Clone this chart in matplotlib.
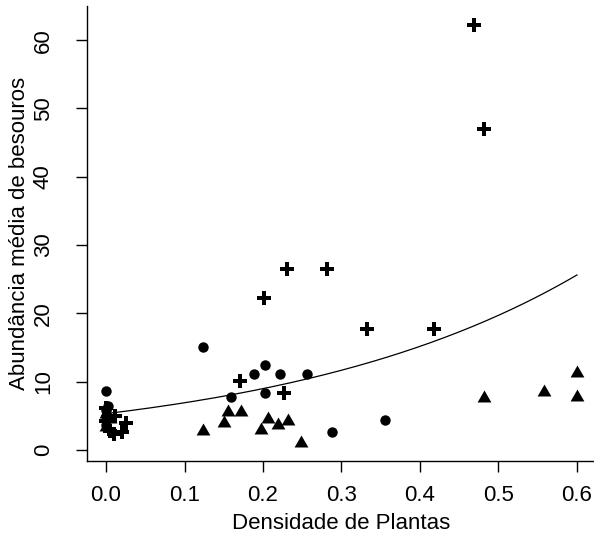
import matplotlib
matplotlib.use("Agg")
import matplotlib.pyplot as plt
import numpy as np
from matplotlib.path import Path

plt.rcParams['font.family'] = ['Liberation Sans', 'DejaVu Sans']

# Circles (group 1)
circ_x = [0.000, 0.000, 0.000, 0.000, 0.003, 0.124, 0.202, 0.189, 0.222, 0.256, 0.202, 0.159, 0.288, 0.355]
circ_y = [8.6, 5.8, 5.0, 3.6, 6.4, 15.1, 12.4, 11.1, 11.1, 11.1, 8.4, 7.7, 2.7, 4.4]

# Crosses (group 2)
plus_x = [0.000, 0.000, 0.005, 0.010, 0.012, 0.020, 0.025, 0.171, 0.227, 0.201, 0.231, 0.282, 0.333, 0.418, 0.469, 0.482]
plus_y = [6.2, 4.2, 2.8, 2.3, 5.0, 2.6, 4.0, 10.1, 8.4, 22.2, 26.5, 26.5, 17.7, 17.7, 62.2, 47.0]

# Triangles (group 3)
tri_x = [0.000, 0.000, 0.005, 0.155, 0.172, 0.150, 0.124, 0.206, 0.232, 0.219, 0.197, 0.249, 0.482, 0.558, 0.600, 0.600]
tri_y = [5.3, 3.3, 4.6, 5.6, 5.5, 4.0, 2.8, 4.6, 4.3, 3.7, 2.9, 1.0, 7.6, 8.5, 11.2, 7.8]

# Fitted exponential model: y = a * exp(b * x)
fit_a = 5.32
fit_b = 2.62
fit_xmin, fit_xmax = 0.0, 0.6

x_ticks = [0.0, 0.1, 0.2, 0.3, 0.4, 0.5, 0.6]
x_ticklabels = ["0.0", "0.1", "0.2", "0.3", "0.4", "0.5", "0.6"]
y_ticks = [0, 10, 20, 30, 40, 50, 60]
y_ticklabels = ["0", "10", "20", "30", "40", "50", "60"]

W, H = 594, 539
fig = plt.figure(figsize=(W / 100, H / 100), dpi=100)
ax = fig.add_axes([87.2 / W, (H - 461.4) / H, 508.6 / W, (461.4 - 6.2) / H])

tri_marker = Path([(-1, -0.577), (1, -0.577), (0, 1.155), (-1, -0.577)],
                  [Path.MOVETO, Path.LINETO, Path.LINETO, Path.CLOSEPOLY])

xs = np.linspace(fit_xmin, fit_xmax, 200)
ax.plot(xs, fit_a * np.exp(fit_b * xs), color='black', lw=0.9, zorder=2)

ax.plot(circ_x, circ_y, 'o', color='black', ms=7.5, mew=0, zorder=3)
ax.plot(plus_x, plus_y, 'P', color='black', ms=9.8, mew=0, zorder=3)
ax.plot(tri_x, tri_y, linestyle='none', marker=tri_marker, color='black', ms=11.5, mew=0, zorder=3)

ax.set_xlim(-0.024, 0.624)
ax.set_ylim(-1.67, 64.97)

ax.spines['top'].set_visible(False)
ax.spines['right'].set_visible(False)
for s in ['left', 'bottom']:
    ax.spines[s].set_linewidth(1.0)

ax.set_xticks(x_ticks)
ax.set_xticklabels(x_ticklabels)
ax.set_yticks(y_ticks)
ax.set_yticklabels(y_ticklabels, rotation=90, va='center')
ax.tick_params(axis='both', direction='out', length=8, width=1.0, labelsize=16)
ax.tick_params(axis='x', pad=9)
ax.tick_params(axis='y', pad=16)

ax.set_xlabel("Densidade de Plantas", fontsize=16, labelpad=5)
ax.set_ylabel("Abundância média de besouros", fontsize=16, labelpad=2)

fig.savefig("out.png", dpi=100)
